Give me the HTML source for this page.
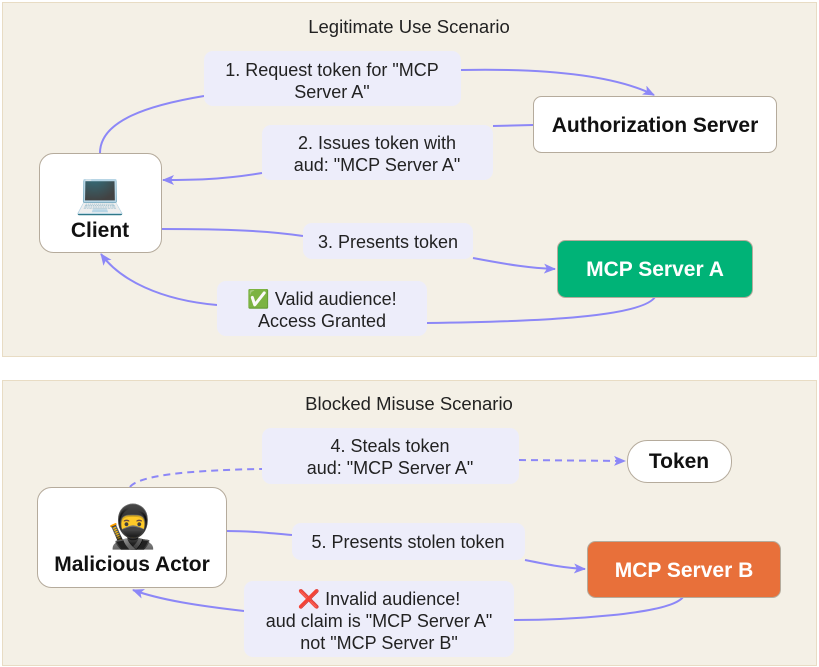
<!DOCTYPE html>
<html><head><meta charset="utf-8"><style>
html,body{margin:0;padding:0;background:#fff;}
svg{display:block;font-family:"Liberation Sans","Noto Sans CJK SC",sans-serif;}
.lbl{fill:#ededfa;}
.t{font-size:18px;fill:#222;text-anchor:middle;}
.b{font-size:21px;font-weight:bold;text-anchor:middle;fill:#111;}
.e{fill:none;stroke:#8c87f7;stroke-width:2;}
</style></head><body>
<svg width="819" height="667" viewBox="0 0 819 667" xmlns="http://www.w3.org/2000/svg">
<defs><marker id="a" markerWidth="12" markerHeight="10" refX="11" refY="5" orient="auto" markerUnits="userSpaceOnUse"><path d="M0,0 L12,5 L0,10 L3,5 z" fill="#8c87f7"/></marker></defs>
<rect x="2.5" y="2.5" width="814" height="354" fill="#f4f0e6" stroke="#e8dcc4"/>
<rect x="2.5" y="380.5" width="814" height="285" fill="#f4f0e6" stroke="#e8dcc4"/>
<text class="t" x="409" y="33" style="font-size:18.5px">Legitimate Use Scenario</text>
<text class="t" x="409" y="410" style="font-size:18.5px">Blocked Misuse Scenario</text>

<path class="e" d="M100,153 C100,120 150,105 204,96"/>
<path class="e" d="M461,70 C560,68 620,78 654,95" marker-end="url(#a)"/>
<path class="e" d="M533,125 L493,126"/>
<path class="e" d="M262,173 C220,180 190,180 163,180" marker-end="url(#a)"/>
<path class="e" d="M161,229 C230,229 270,231 303,236"/>
<path class="e" d="M473,258 C510,265 530,268 555,269" marker-end="url(#a)"/>
<path class="e" d="M655,297 C640,320 500,322 427,323"/>
<path class="e" d="M217,305 C160,300 120,280 101,254" marker-end="url(#a)"/>

<path class="e" stroke-dasharray="7,5" d="M130,487 C140,474 200,470 262,469"/>
<path class="e" stroke-dasharray="7,5" d="M519,460 L625,461" marker-end="url(#a)"/>
<path class="e" d="M226,531 C250,531 270,533 292,535"/>
<path class="e" d="M525,560 C550,565 565,568 585,569" marker-end="url(#a)"/>
<path class="e" d="M683,597 C670,615 560,620 514,620"/>
<path class="e" d="M244,611 C200,606 160,600 133,590" marker-end="url(#a)"/>

<rect class="lbl" x="204" y="51" width="257" height="55" rx="9"/>
<text class="t" x="332" y="76">1. Request token for "MCP</text>
<text class="t" x="332" y="98">Server A"</text>
<rect class="lbl" x="262" y="125" width="231" height="55" rx="9"/>
<text class="t" x="377" y="149">2. Issues token with</text>
<text class="t" x="377" y="171">aud: "MCP Server A"</text>
<rect class="lbl" x="303" y="223" width="170" height="36" rx="9"/>
<text class="t" x="388" y="248">3. Presents token</text>
<rect class="lbl" x="217" y="281" width="210" height="55" rx="9"/>
<text class="t" x="322" y="305">✅ Valid audience!</text>
<text class="t" x="322" y="327">Access Granted</text>

<rect class="lbl" x="262" y="428" width="257" height="56" rx="9"/>
<text class="t" x="390" y="452">4. Steals token</text>
<text class="t" x="390" y="474">aud: "MCP Server A"</text>
<rect class="lbl" x="292" y="523" width="233" height="37" rx="9"/>
<text class="t" x="408" y="548">5. Presents stolen token</text>
<rect class="lbl" x="244" y="581" width="270" height="76" rx="9"/>
<text class="t" x="379" y="605">❌ Invalid audience!</text>
<text class="t" x="379" y="627">aud claim is "MCP Server A"</text>
<text class="t" x="379" y="649">not "MCP Server B"</text>

<rect x="533.5" y="96.5" width="243" height="56" rx="8" fill="#fff" stroke="#b5ab9c"/>
<text class="b" x="655" y="132">Authorization Server</text>
<rect x="39.5" y="153.5" width="122" height="99" rx="14" fill="#fff" stroke="#b5ab9c"/>
<text x="100" y="207" font-size="40" text-anchor="middle">💻</text>
<text class="b" x="100" y="237">Client</text>
<rect x="557.5" y="240.5" width="195" height="57" rx="8" fill="#00b377" stroke="#b5ab9c"/>
<text class="b" x="655" y="276" style="fill:#fff">MCP Server A</text>

<rect x="627.5" y="440.5" width="104" height="42" rx="20" fill="#fff" stroke="#b5ab9c"/>
<text class="b" x="679" y="468">Token</text>
<rect x="37.5" y="487.5" width="189" height="100" rx="14" fill="#fff" stroke="#b5ab9c"/>
<text x="132" y="541" font-size="42" text-anchor="middle">🥷</text>
<text class="b" x="132" y="571">Malicious Actor</text>
<rect x="587.5" y="541.5" width="193" height="56" rx="8" fill="#e8703a" stroke="#b5ab9c"/>
<text class="b" x="684" y="577" style="fill:#fff">MCP Server B</text>
</svg>
</body></html>
